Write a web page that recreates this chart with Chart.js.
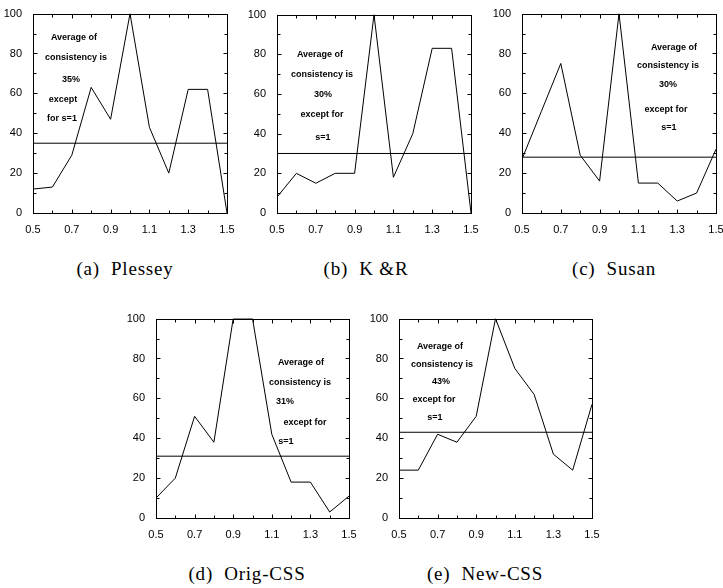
<!DOCTYPE html>
<html>
<head>
<meta charset="utf-8">
<script src="https://cdn.jsdelivr.net/npm/chart.js@4"></script>
<style>
  html, body { margin: 0; padding: 0; background: #fff; overflow: hidden; }
  body { width: 723px; height: 588px; position: relative; }
  canvas { position: absolute; }
  .note { position: absolute; font: bold 9px "Liberation Sans", Arial, sans-serif; color: #000;
          white-space: nowrap; transform: translate(-50%, -50%); }
  .cap { position: absolute; font: 19px "Liberation Serif", serif; color: #000; letter-spacing: 0.8px;
         white-space: pre; transform: translate(-50%, -50%); }
</style>
</head>
<body>
<script>
// scale factor s (x axis) and consistency in percent
const scales = [0.5, 0.6, 0.7, 0.8, 0.9, 1.0, 1.1, 1.2, 1.3, 1.4, 1.5];
const plessey = [12, 13, 29, 63, 47, 100, 43, 20, 62, 62, 0];
const kAndR = [8, 20, 15, 20, 20, 100, 18, 40, 83, 83, 0];
const susan = [27, 51, 75, 29, 16, 100, 15, 15, 6, 10, 32];
const origCss = [10, 20, 51, 38, 100, 100, 42, 18, 18, 3, 11];
const newCss = [24, 24, 42, 38, 51, 100, 75, 62, 32, 24, 57];
const averages = [35, 30, 28, 31, 43];
const captions = ['(a)  Plessey', '(b)  K &R', '(c)  Susan', '(d)  Orig-CSS', '(e)  New-CSS'];
const noteLines = [
  ['Average of', 'consistency is', '35%', 'except', 'for s=1'],
  ['Average of', 'consistency is', '30%', 'except for', 's=1'],
  ['Average of', 'consistency is', '30%', 'except for', 's=1'],
  ['Average of', 'consistency is', '31%', 'except for', 's=1'],
  ['Average of', 'consistency is', '43%', 'except for', 's=1'],
];

// layout: plot rectangles (left, right, top, bottom) in page pixels
const panels = [
  { plot: [33, 227, 12, 213], cap: [125, 269],
    notes: [[74, 37], [76, 57], [71, 79], [63, 99], [62, 118]] },
  { plot: [277, 471, 13, 213], cap: [366, 269],
    notes: [[320, 54], [322, 74], [323, 94], [322, 114], [323, 137]] },
  { plot: [522, 716, 12, 213], cap: [614, 269],
    notes: [[674, 47], [668, 65], [668, 84], [666, 109], [669, 127]] },
  { plot: [156, 349, 317, 518], cap: [247, 574],
    notes: [[301, 362], [300, 382], [285, 401], [305, 422], [286, 441]] },
  { plot: [399, 592, 317, 518], cap: [485, 574],
    notes: [[440, 346], [442, 364], [441, 381], [434, 399], [435, 417]] },
];
const seriesList = [plessey, kAndR, susan, origCss, newCss];

const AXIS_W = 33, AXIS_H = 22, PAD_T = 8, PAD_R = 10;

// gnuplot-like border with inward ticks on all four sides
const borderTicks = {
  id: 'borderTicks',
  afterDraw(chart) {
    const { ctx, chartArea: a } = chart;
    const xs = chart.scales.x, ys = chart.scales.y;
    ctx.save();
    ctx.strokeStyle = '#000';
    ctx.lineWidth = 1;
    const l = Math.round(a.left) + 0.5, r = Math.round(a.right) + 0.5;
    const t = Math.round(a.top) + 0.5, b = Math.round(a.bottom) + 0.5;
    ctx.strokeRect(l, t, r - l, b - t);
    ctx.beginPath();
    xs.ticks.forEach((tk, i) => {
      const px = Math.round(xs.getPixelForValue(tk.value)) + 0.5;
      const len = i % 2 === 0 ? 4 : 3;
      ctx.moveTo(px, b); ctx.lineTo(px, b - len);
      ctx.moveTo(px, t); ctx.lineTo(px, t + len);
    });
    ys.ticks.forEach((tk) => {
      const py = Math.round(ys.getPixelForValue(tk.value)) + 0.5;
      const len = tk.value % 20 === 0 ? 4 : 3;
      ctx.moveTo(l, py); ctx.lineTo(l + len, py);
      ctx.moveTo(r, py); ctx.lineTo(r - len, py);
    });
    ctx.stroke();
    ctx.restore();
  },
};

panels.forEach((p, k) => {
  const [L, R, T, B] = p.plot;
  const canvas = document.createElement('canvas');
  const w = (R - L) + AXIS_W + PAD_R;
  const h = (B - T) + PAD_T + AXIS_H;
  canvas.width = w; canvas.height = h;
  canvas.style.left = (L - AXIS_W) + 'px';
  canvas.style.top = (T - PAD_T) + 'px';
  canvas.style.width = w + 'px'; canvas.style.height = h + 'px';
  document.body.appendChild(canvas);

  const values = seriesList[k];
  const avg = averages[k];

  new Chart(canvas, {
    type: 'line',
    data: {
      datasets: [
        {
          data: scales.map((s, i) => ({ x: s, y: values[i] })),
          borderColor: '#000',
          borderWidth: 1,
          pointRadius: 0,
          tension: 0,
        },
        {
          data: [{ x: scales[0], y: avg }, { x: scales[scales.length - 1], y: avg }],
          borderColor: '#000',
          borderWidth: 1,
          pointRadius: 0,
        },
      ],
    },
    options: {
      responsive: false,
      animation: false,
      layout: { padding: { left: 0, top: PAD_T, right: PAD_R, bottom: 0 } },
      plugins: { legend: { display: false }, tooltip: { enabled: false } },
      scales: {
        x: {
          type: 'linear',
          min: 0.5,
          max: 1.5,
          grid: { display: false },
          border: { display: false },
          afterFit: (s) => { s.height = AXIS_H; },
          ticks: {
            stepSize: 0.1,
            autoSkip: false,
            maxRotation: 0,
            padding: 2,
            color: '#000',
            font: { family: 'Liberation Sans', size: 11 },
            callback: (v, i) => (i % 2 === 0 ? Number(v).toFixed(1) : ''),
          },
        },
        y: {
          min: 0,
          max: 100,
          grid: { display: false },
          border: { display: false },
          afterFit: (s) => { s.width = AXIS_W; },
          ticks: {
            stepSize: 10,
            autoSkip: false,
            padding: 3,
            color: '#000',
            font: { family: 'Liberation Sans', size: 11 },
            callback: (v) => (v % 20 === 0 ? String(v) : ''),
          },
        },
      },
    },
    plugins: [borderTicks],
  });

  noteLines[k].forEach((txt, j) => {
    const d = document.createElement('div');
    d.className = 'note';
    d.textContent = txt;
    d.style.left = p.notes[j][0] + 'px';
    d.style.top = p.notes[j][1] + 'px';
    document.body.appendChild(d);
  });

  const c = document.createElement('div');
  c.className = 'cap';
  c.textContent = captions[k];
  c.style.left = p.cap[0] + 'px';
  c.style.top = p.cap[1] + 'px';
  document.body.appendChild(c);
});
</script>
</body>
</html>
